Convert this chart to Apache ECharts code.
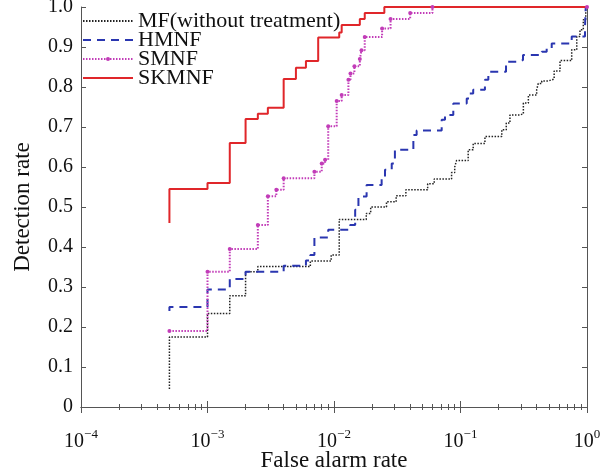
<!DOCTYPE html>
<html>
<head>
<meta charset="utf-8" />
<title>ROC curves</title>
<script src="https://cdn.jsdelivr.net/npm/echarts@6/dist/echarts.min.js"></script>
<style>
html, body { margin: 0; padding: 0; background: #fff; }
#main { width: 611px; height: 473px; }
</style>
</head>
<body>
<div id="main"></div>
<script>
// series names
var names = ['MF(without treatment)', 'HMNF', 'SMNF', 'SKMNF'];

// false alarm rate (x) / detection rate (y)
var mfX = [5e-4, 5e-4, 1e-3, 1.5e-3, 2e-3, 2.5e-3, 6.5e-3, 9.5e-3, 1.1e-2, 1.8e-2, 1.95e-2, 2.6e-2, 3.1e-2, 3.7e-2, 5.5e-2, 6.2e-2, 8.5e-2, 9e-2, 9.3e-2, 0.115, 0.126, 0.156, 0.212, 0.23, 0.246, 0.295, 0.314, 0.344, 0.40, 0.412, 0.439, 0.494, 0.55, 0.612, 0.757, 0.83, 0.88, 0.935, 0.977, 1];
var mfY = [0.045, 0.175, 0.234, 0.278, 0.338, 0.351, 0.365, 0.38, 0.469, 0.484, 0.5, 0.513, 0.528, 0.543, 0.558, 0.57, 0.586, 0.6, 0.616, 0.643, 0.659, 0.676, 0.693, 0.71, 0.73, 0.733, 0.76, 0.78, 0.793, 0.809, 0.815, 0.82, 0.84, 0.866, 0.893, 0.926, 0.943, 0.968, 1.0, 1.0];

var hmnfX = [5e-4, 5e-4, 1e-3, 1.5e-3, 2e-3, 4e-3, 6e-3, 6.5e-3, 7e-3, 9e-3, 1.34e-2, 1.47e-2, 1.56e-2, 1.81e-2, 2.38e-2, 2.53e-2, 2.86e-2, 3.03e-2, 4.24e-2, 4.5e-2, 7.1e-2, 7.54e-2, 8.77e-2, 0.112, 0.117, 0.126, 0.156, 0.166, 0.229, 0.295, 0.312, 0.439, 0.48, 0.526, 0.757, 0.964, 0.977, 1];
var hmnfY = [0.24, 0.25, 0.294, 0.32, 0.338, 0.353, 0.366, 0.38, 0.424, 0.443, 0.455, 0.493, 0.526, 0.555, 0.572, 0.593, 0.609, 0.643, 0.68, 0.691, 0.718, 0.73, 0.759, 0.771, 0.784, 0.793, 0.818, 0.838, 0.863, 0.868, 0.88, 0.888, 0.896, 0.909, 0.926, 0.95, 1.0, 1.0];

var smnfX = [5e-4, 1e-3, 1.5e-3, 2.5e-3, 3e-3, 3.5e-3, 4e-3, 7e-3, 8e-3, 8.5e-3, 9e-3, 1.05e-2, 1.15e-2, 1.3e-2, 1.35e-2, 1.45e-2, 1.6e-2, 1.65e-2, 1.75e-2, 2.4e-2, 2.8e-2, 4e-2, 6e-2, 1];
var smnfY = [0.19, 0.338, 0.395, 0.455, 0.527, 0.543, 0.572, 0.588, 0.609, 0.618, 0.702, 0.765, 0.78, 0.818, 0.834, 0.852, 0.87, 0.892, 0.925, 0.946, 0.97, 0.985, 1.0, 1.0];

var skmnfX = [5e-4, 5e-4, 1e-3, 1.5e-3, 2e-3, 2.5e-3, 3e-3, 4e-3, 5e-3, 6e-3, 7.5e-3, 1.1e-2, 1.15e-2, 1.6e-2, 1.75e-2, 2.5e-2, 1];
var skmnfY = [0.46, 0.545, 0.56, 0.66, 0.72, 0.733, 0.748, 0.82, 0.848, 0.865, 0.924, 0.936, 0.955, 0.97, 0.985, 1.0, 1.0];

function zip(xs, ys) {
    var out = [];
    for (var i = 0; i < xs.length; i++) {
        out.push([xs[i], ys[i]]);
    }
    return out;
}

var serif = 'Liberation Serif';
var axisColor = '#555';
var noDot = { opacity: 0, color: 'rgba(0,0,0,0)', borderWidth: 0 };

var myChart = echarts.init(document.getElementById('main'));

var option = {
    backgroundColor: '#fff',
    animation: false,
    grid: { left: 81, right: 24, top: 7, bottom: 66, outerBoundsMode: 'none', containLabel: false },
    legend: {
        orient: 'vertical',
        left: 82,
        top: 10,
        padding: 0,
        itemWidth: 50,
        itemHeight: 5,
        itemGap: -3,
        textStyle: { fontFamily: serif, fontSize: 22, color: '#111', lineHeight: 20 },
        data: [
            { name: names[0], itemStyle: noDot },
            { name: names[1], itemStyle: noDot },
            { name: names[2] },
            { name: names[3], itemStyle: noDot }
        ]
    },
    xAxis: [{
        type: 'log',
        logBase: 10,
        min: 1e-4,
        max: 1,
        position: 'bottom',
        axisLine: { show: true, lineStyle: { color: axisColor, width: 1 } },
        axisTick: { show: true, inside: true, length: 6, lineStyle: { color: axisColor } },
        minorTick: { show: true, splitNumber: 9, length: 3, lineStyle: { color: axisColor } },
        splitLine: { show: false },
        minorSplitLine: { show: false },
        axisLabel: {
            margin: 21,
            formatter: function (v) {
                var e = Math.round(Math.log10(v));
                return '{b|10}{s|' + (e < 0 ? '\u2212' + (-e) : e) + '}';
            },
            rich: {
                b: { fontFamily: serif, fontSize: 20, color: '#111', lineHeight: 24, verticalAlign: 'bottom' },
                s: { fontFamily: serif, fontSize: 13, color: '#111', lineHeight: 14, verticalAlign: 'top' }
            }
        },
        name: 'False alarm rate',
        nameLocation: 'middle',
        nameGap: 42,
        nameMoveOverlap: false,
        nameTextStyle: { fontFamily: serif, fontSize: 23, color: '#111' }
    }, {
        type: 'log',
        logBase: 10,
        min: 1e-4,
        max: 1,
        position: 'top',
        axisLine: { show: true, lineStyle: { color: axisColor, width: 1 } },
        axisTick: { show: true, inside: true, length: 6, lineStyle: { color: axisColor } },
        minorTick: { show: true, splitNumber: 9, length: 3, lineStyle: { color: axisColor } },
        splitLine: { show: false },
        axisLabel: { show: false }
    }],
    yAxis: [{
        type: 'value',
        min: 0,
        max: 1,
        interval: 0.1,
        axisLine: { show: true, lineStyle: { color: axisColor, width: 1 } },
        axisTick: { show: true, inside: true, length: 5, lineStyle: { color: axisColor } },
        splitLine: { show: false },
        axisLabel: {
            margin: 8,
            fontFamily: serif,
            fontSize: 20,
            color: '#111',
            formatter: function (v) { return v === 0 ? '0' : v.toFixed(1); }
        },
        name: 'Detection rate',
        nameLocation: 'middle',
        nameGap: 47,
        nameMoveOverlap: false,
        nameTextStyle: { fontFamily: serif, fontSize: 23, color: '#111' }
    }, {
        type: 'value',
        min: 0,
        max: 1,
        interval: 0.1,
        position: 'right',
        axisLine: { show: true, lineStyle: { color: axisColor, width: 1 } },
        axisTick: { show: true, inside: true, length: 5, lineStyle: { color: axisColor } },
        splitLine: { show: false },
        axisLabel: { show: false }
    }],
    series: [{
        name: names[0],
        type: 'line',
        step: 'end',
        symbol: 'none',
        color: '#222',
        lineStyle: { color: '#222', width: 1.5, type: [1.5, 1.5] },
        data: zip(mfX, mfY)
    }, {
        name: names[1],
        type: 'line',
        step: 'end',
        symbol: 'none',
        color: '#2a36b0',
        lineStyle: { color: '#2a36b0', width: 2, type: [8, 6] },
        data: zip(hmnfX, hmnfY)
    }, {
        name: names[2],
        type: 'line',
        step: 'end',
        symbol: 'circle',
        symbolSize: 4,
        showSymbol: true,
        color: '#c23cb8',
        itemStyle: { color: '#c23cb8' },
        lineStyle: { color: '#c23cb8', width: 2, type: [1.5, 1.5] },
        data: zip(smnfX, smnfY)
    }, {
        name: names[3],
        type: 'line',
        step: 'end',
        symbol: 'none',
        color: '#e0262a',
        lineStyle: { color: '#e0262a', width: 2 },
        data: zip(skmnfX, skmnfY)
    }]
};

myChart.setOption(option);
</script>
</body>
</html>
